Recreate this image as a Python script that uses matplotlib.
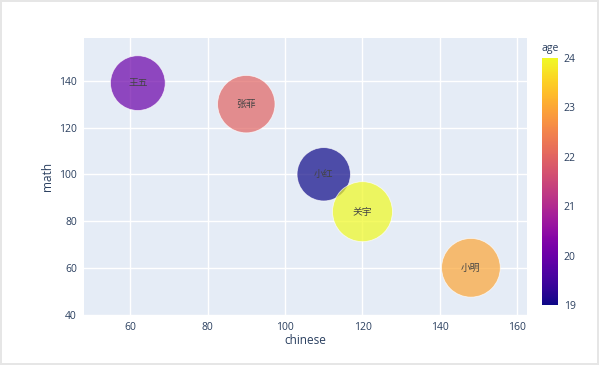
import numpy as np
import matplotlib
matplotlib.use("Agg")
import matplotlib.pyplot as plt
from matplotlib import cm
from matplotlib.colors import Normalize

plt.rcParams['font.family'] = ['Open Sans', 'Noto Sans CJK SC', 'DejaVu Sans']

names = ["王五", "张菲", "小红", "关宇", "小明"]
chinese = [62, 90, 110, 120, 148]
math = [139, 130, 100, 84, 60]
age = [20, 22, 19, 24, 23]

W, H, DPI = 599, 365, 100
fig = plt.figure(figsize=(W / DPI, H / DPI), dpi=DPI)
fig.patch.set_facecolor('white')
fig.patch.set_edgecolor('#e6e6e6')
fig.patch.set_linewidth(1.5)

ax = fig.add_axes([84 / W, 1 - 315 / H, (526.7 - 84) / W, (315 - 38) / H])
ax.set_facecolor('#E5ECF6')
for s in ax.spines.values():
    s.set_visible(False)

cmap = plt.get_cmap('plasma')
norm = Normalize(vmin=min(age), vmax=max(age))

age_arr = np.array(age, dtype=float)
diam_px = 60 * np.sqrt(age_arr / age_arr.max())
diam_pt = diam_px * 72 / DPI
sizes = diam_pt ** 2

ax.scatter(chinese, math, s=sizes, c=age, cmap=cmap, norm=norm, alpha=0.7,
           edgecolors='white', linewidths=0.6, zorder=3)
for n, x, y in zip(names, chinese, math):
    ax.text(x, y, n, ha='center', va='center', fontsize=7, color='#444444',
            family=['Noto Sans CJK SC', 'DejaVu Sans'], zorder=4)

ax.set_xlim(48.1, 162.4)
ax.set_ylim(39.8, 158.3)
ax.set_xticks([60, 80, 100, 120, 140, 160])
ax.set_yticks([40, 60, 80, 100, 120, 140])
ax.grid(True, color='white', linewidth=1.0, zorder=0)
ax.set_axisbelow(True)
ax.tick_params(length=0, labelsize=7.5, labelcolor='#2a3f5f', pad=5)
ax.set_xlabel('chinese', fontsize=8.5, color='#2a3f5f', labelpad=1)
ax.set_ylabel('math', fontsize=8.5, color='#2a3f5f', labelpad=4)

cax = fig.add_axes([542 / W, 1 - 305 / H, 16 / W, (305 - 58) / H])
sm = cm.ScalarMappable(norm=norm, cmap=cmap)
cb = fig.colorbar(sm, cax=cax)
cb.outline.set_visible(False)
cb.set_ticks([19, 20, 21, 22, 23, 24])
cax.tick_params(length=0, labelsize=7.5, labelcolor='#2a3f5f', pad=4)
fig.text(542 / W, 1 - 49 / H, 'age', fontsize=7.5, color='#2a3f5f', ha='left', va='center')

fig.savefig('out.png', dpi=DPI, facecolor=fig.get_facecolor(), edgecolor=fig.get_edgecolor())
